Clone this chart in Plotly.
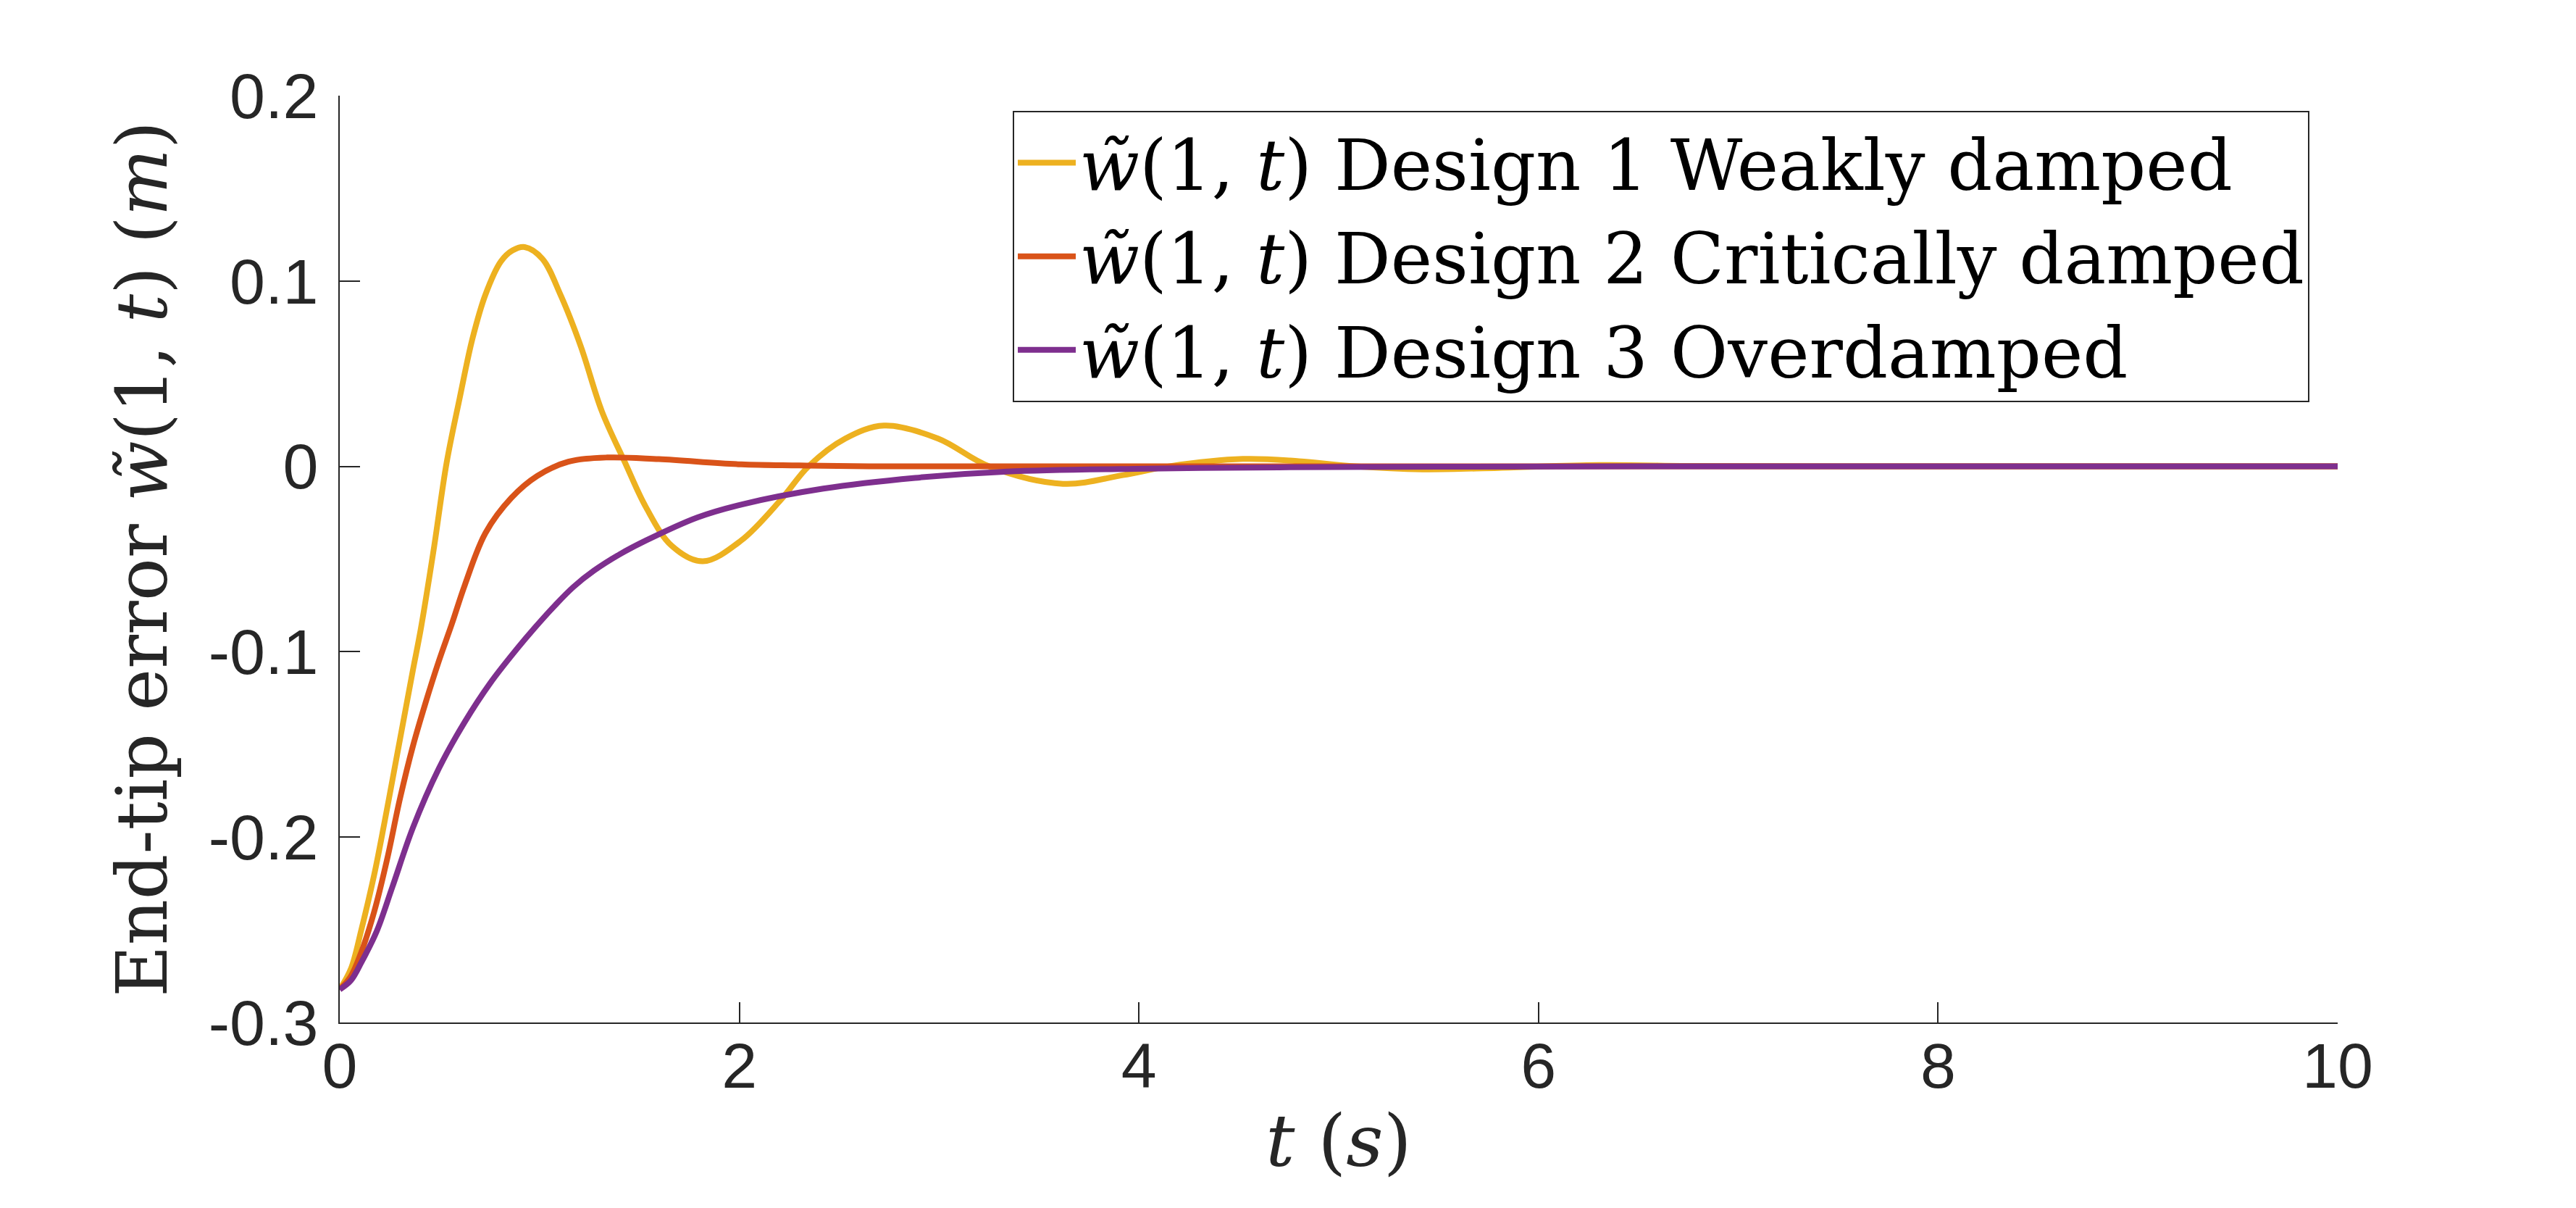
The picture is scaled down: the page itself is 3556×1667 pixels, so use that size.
import plotly.graph_objects as go

# ---- data ----
t_design1 = [0, 0.056, 0.108, 0.173, 0.224, 0.276, 0.321, 0.366, 0.406, 0.470, 0.535, 0.600,
             0.664, 0.729, 0.807, 0.865, 0.926, 1.014, 1.105, 1.207, 1.312, 1.429, 1.532, 1.662,
             1.817, 2.009, 2.208, 2.346, 2.53, 2.724, 2.995, 3.25, 3.62, 3.92, 4.15, 4.52,
             4.8, 5.08, 5.42, 5.8, 6.3, 6.8, 7.5, 8.5, 10]
w_design1 = [-0.2822, -0.271, -0.250, -0.220, -0.192, -0.162, -0.136, -0.110, -0.0875, -0.045,
             0.002, 0.0367, 0.0688, 0.0926, 0.1106, 0.1165, 0.1183, 0.112, 0.0925, 0.0646, 0.0297,
             0.0018, -0.0219, -0.0429, -0.0512, -0.040, -0.018, 0.0, 0.015, 0.022, 0.015, 0.0,
             -0.0094, -0.0047, 0.0, 0.004, 0.0028, 0.0, -0.0016, -0.0008, 0.0007, 0.0002, 0.0,
             0.0, 0.0]

t_design2 = [0, 0.056, 0.108, 0.173, 0.237, 0.302, 0.366, 0.431, 0.496, 0.561, 0.626, 0.729,
             0.859, 0.988, 1.144, 1.338, 1.597, 2.009, 2.3, 2.65, 3.2, 4.0, 5.0, 6.5, 8.0, 10]
w_design2 = [-0.2822, -0.275, -0.262, -0.240, -0.212, -0.179, -0.151, -0.127, -0.105, -0.085,
             -0.064, -0.0360, -0.0170, -0.0052, 0.0025, 0.0048, 0.0039, 0.0011, 0.0005, 0.0,
             0.0, 0.0, 0.0, 0.0, 0.0, 0.0]

t_design3 = [0, 0.056, 0.108, 0.185, 0.263, 0.366, 0.496, 0.626, 0.754, 0.885, 0.975, 1.079,
             1.17, 1.273, 1.40, 1.532, 1.791, 2.009, 2.42, 2.88, 3.34, 4.04, 4.7, 5.5, 6.5, 8.0, 10]
w_design3 = [-0.2822, -0.2773, -0.2676, -0.2508, -0.227, -0.195, -0.163, -0.1378, -0.1168,
             -0.0987, -0.0872, -0.0748, -0.0650, -0.0562, -0.0475, -0.040, -0.0275, -0.0206,
             -0.012, -0.0062, -0.0028, -0.0012, -0.0005, -0.0002, 0.0, 0.0, 0.0]

series_names = [
    "<i>w\u0303</i>(1, <i>t</i>) Design 1 Weakly damped",
    "<i>w\u0303</i>(1, <i>t</i>) Design 2 Critically damped",
    "<i>w\u0303</i>(1, <i>t</i>) Design 3 Overdamped",
]
series_colors = ["#EDB120", "#D95319", "#7E2F8E"]

x_ticks = [0, 2, 4, 6, 8, 10]
x_ticklabels = ["0", "2", "4", "6", "8", "10"]
y_ticks = [-0.3, -0.2, -0.1, 0, 0.1, 0.2]
y_ticklabels = ["-0.3", "-0.2", "-0.1", "0", "0.1", "0.2"]

SERIF = "DejaVu Serif, Liberation Serif, serif"
SANS = "Liberation Sans, Arial, Helvetica, sans-serif"
AXC = "#262626"

fig = go.Figure()
for tx, wy, nm, col in zip([t_design1, t_design2, t_design3],
                           [w_design1, w_design2, w_design3],
                           series_names, series_colors):
    fig.add_trace(go.Scatter(x=tx, y=wy, mode="lines", name=nm,
                             line=dict(color=col, width=8, shape="spline", smoothing=1.0)))

fig.update_layout(
    width=3556, height=1667,
    margin=dict(l=461, r=337, t=124, b=264, autoexpand=False),
    paper_bgcolor="white", plot_bgcolor="white",
    showlegend=True,
    legend=dict(
        x=(1390 - 461) / (3219 - 461), y=(1403 - 145) / (1403 - 124),
        xanchor="left", yanchor="top",
        bgcolor="white", bordercolor=AXC, borderwidth=2,
        font=dict(family=SERIF, size=97, color="black"),
        itemwidth=80,
    ),
    xaxis=dict(
        range=[0, 10], tickvals=x_ticks, ticktext=x_ticklabels,
        showline=True, linecolor=AXC, linewidth=2, mirror=False,
        ticks="inside", ticklen=28, tickwidth=2, tickcolor=AXC,
        showgrid=False, zeroline=False,
        tickfont=dict(family=SANS, size=88, color=AXC),
        ticklabelstandoff=-18,
        title=dict(text="<i>t</i> (<i>s</i>)", font=dict(family=SERIF, size=100, color=AXC), standoff=20),
        automargin=False,
    ),
    yaxis=dict(
        range=[-0.3, 0.2], tickvals=y_ticks, ticktext=y_ticklabels,
        showline=True, linecolor=AXC, linewidth=2, mirror=False,
        ticks="inside", ticklen=28, tickwidth=2, tickcolor=AXC,
        showgrid=False, zeroline=False,
        tickfont=dict(family=SANS, size=88, color=AXC),
        ticklabelstandoff=10,
        title=dict(text="End-tip error <i>w\u0303</i>(1, <i>t</i>) (<i>m</i>)",
                   font=dict(family=SERIF, size=98, color=AXC), standoff=24),
        automargin=False,
    ),
)

fig.write_html("out.html")
